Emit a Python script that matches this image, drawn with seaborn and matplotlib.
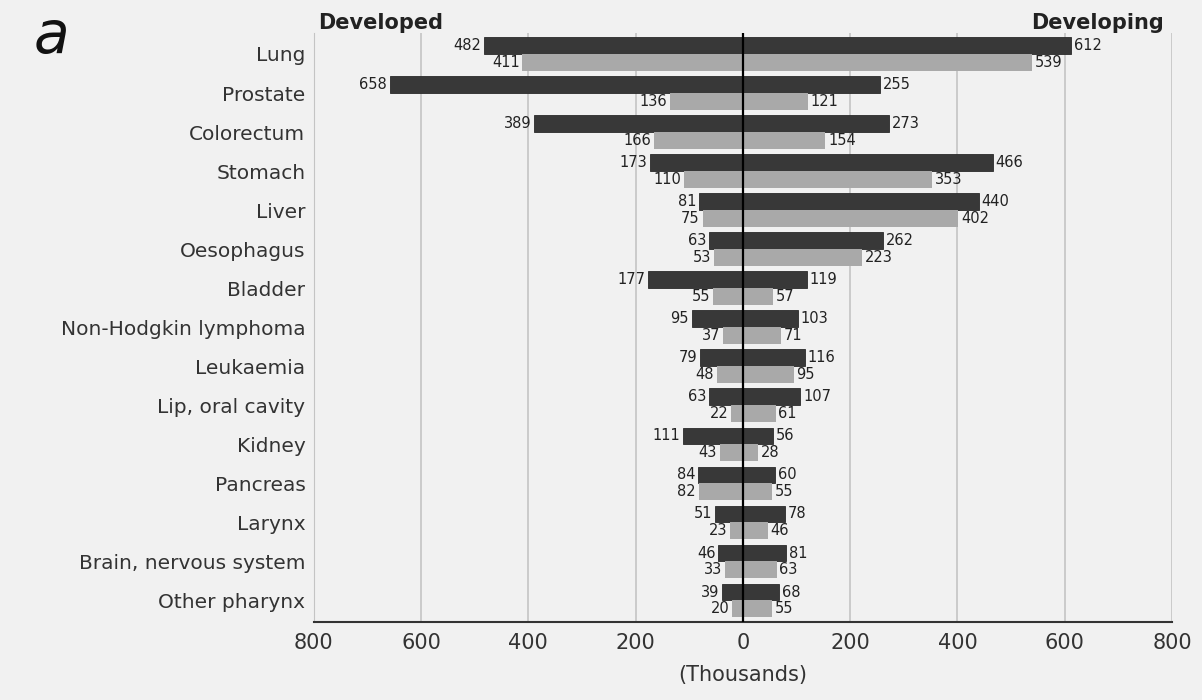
import numpy as np
import pandas as pd
import matplotlib
matplotlib.use("Agg")
import matplotlib.pyplot as plt
import seaborn as sns

# dati (migliaia)
sites = ["Lung", "Prostate", "Colorectum", "Stomach", "Liver", "Oesophagus",
         "Bladder", "Non-Hodgkin lymphoma", "Leukaemia", "Lip, oral cavity",
         "Kidney", "Pancreas", "Larynx", "Brain, nervous system", "Other pharynx"]
developed_incidence = [482, 658, 389, 173, 81, 63, 177, 95, 79, 63, 111, 84, 51, 46, 39]
developed_mortality = [411, 136, 166, 110, 75, 53, 55, 37, 48, 22, 43, 82, 23, 33, 20]
developing_incidence = [612, 255, 273, 466, 440, 262, 119, 103, 116, 107, 56, 60, 78, 81, 68]
developing_mortality = [539, 121, 154, 353, 402, 223, 57, 71, 95, 61, 28, 55, 46, 63, 55]
x_ticks = [-800, -600, -400, -200, 0, 200, 400, 600, 800]

BG = "#f1f1f1"
DARK = "#383838"
LIGHT = "#a9a9a9"


def long_table(incidence, mortality, sign):
    df = pd.DataFrame({
        "site": sites * 2,
        "measure": ["Incidence"] * len(sites) + ["Mortality"] * len(sites),
        "value": [sign * v for v in incidence + mortality],
    })
    return df


left = long_table(developed_incidence, developed_mortality, -1)
right = long_table(developing_incidence, developing_mortality, 1)

sns.set_style("white")
plt.rcParams["font.family"] = ["DejaVu Sans"]

fig = plt.figure(figsize=(12.02, 7), dpi=100, facecolor=BG)
ax = fig.add_axes([0.261, 0.111, 0.714, 0.842])
ax.set_facecolor(BG)

palette = {"Incidence": DARK, "Mortality": LIGHT}
for df in (left, right):
    sns.barplot(data=df, x="value", y="site", hue="measure", order=sites,
                hue_order=["Incidence", "Mortality"], palette=palette,
                width=0.86, errorbar=None, legend=False, ax=ax,
                linewidth=0, saturation=1)

# bordo scuro solo per le barre di incidenza, etichette con valori assoluti
for i, container in enumerate(ax.containers):
    if i % 2 == 0:
        for p in container:
            p.set_edgecolor("#2a2a2a")
            p.set_linewidth(0.6)
    ax.bar_label(container, fmt=lambda v: f"{abs(v):.0f}", padding=2,
                 fontsize=10.5, color="#222222")

ax.set_xlim(-800, 800)
ax.set_ylim(len(sites) - 0.44, -0.54)
ax.set_xticks(x_ticks)
ax.set_xticklabels([str(abs(t)) for t in x_ticks], fontsize=15, color="#333333")
ax.tick_params(axis="x", direction="out", length=6, width=1.2, color="#333333", pad=2)
ax.tick_params(axis="y", length=0, labelsize=14.5, labelcolor="#333333", pad=6)
ax.set_xlabel("(Thousands)", fontsize=15, color="#333333", labelpad=8)
ax.set_ylabel("")

ax.grid(axis="x", color="#c4c4c4", linewidth=1.2)
ax.set_axisbelow(True)
ax.axvline(0, color="black", linewidth=1.6, zorder=5)

for s in ("top", "right"):
    ax.spines[s].set_visible(False)
ax.spines["left"].set_color("#c4c4c4")
ax.spines["bottom"].set_color("#333333")
ax.spines["bottom"].set_linewidth(1.5)

fig.text(0.265, 0.958, "Developed", fontsize=15, fontweight="bold", color="#222222")
fig.text(0.968, 0.958, "Developing", fontsize=15, fontweight="bold", color="#222222",
         ha="right")
fig.text(0.028, 0.925, "a", fontsize=42, style="italic", color="#111111")

fig.savefig("out.png", dpi=100, facecolor=BG)
